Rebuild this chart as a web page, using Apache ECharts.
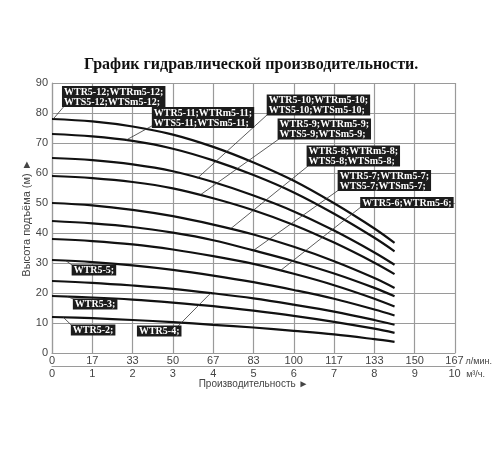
<!DOCTYPE html>
<html>
<head>
<meta charset="utf-8">
<script src="https://cdn.jsdelivr.net/npm/echarts@6/dist/echarts.min.js"></script>
<style>
  html, body { margin: 0; padding: 0; background: #fff; }
  #main { width: 500px; height: 450px; }
</style>
</head>
<body>
<div id="main"></div>
<script>
// flow, m3/h
var flow = [0, 1, 2, 3, 4, 5, 6, 7, 8, 8.5];

// head, m (one curve per number of stages)
var head12 = [78, 77.2, 75.5, 72.8, 68.7, 63.5, 57.4, 49.9, 41.5, 36.7];
var head11 = [73, 72.2, 70.7, 68.1, 64.2, 59.3, 53.5, 46.4, 38.4, 33.9];
var head10 = [65, 64.3, 62.9, 60.6, 57.0, 52.5, 47.2, 40.8, 33.5, 29.4];
var head9  = [59, 58.3, 57.0, 54.9, 51.6, 47.6, 42.7, 36.8, 30.1, 26.3];
var head8  = [50, 49.2, 47.7, 45.6, 42.8, 39.5, 35.4, 30.6, 25.0, 21.7];
var head7  = [44, 43.2, 42.0, 40.1, 37.6, 34.2, 30.6, 26.5, 21.7, 18.9];
var head6  = [38, 37.3, 36.2, 34.5, 32.3, 29.7, 26.4, 22.6, 18.1, 15.5];
var head5  = [31, 30.3, 29.2, 27.7, 25.8, 23.6, 21.0, 18.1, 14.5, 12.5];
var head4  = [24, 23.4, 22.5, 21.4, 19.9, 18.2, 16.1, 13.8, 11.0, 9.4];
var head3  = [19, 18.5, 17.8, 16.8, 15.6, 14.1, 12.4, 10.4, 8.1, 6.7];
var head2  = [12, 11.6, 11.0, 10.3, 9.4, 8.5, 7.4, 6.2, 4.6, 3.7];

// tick labels
var litreTicks = ['0', '17', '33', '50', '67', '83', '100', '117', '133', '150', '167'];
var cubicTicks = ['0', '1', '2', '3', '4', '5', '6', '7', '8', '9', '10'];

var curves = [
  { name: '5-12', head: head12 },
  { name: '5-11', head: head11 },
  { name: '5-10', head: head10 },
  { name: '5-9', head: head9 },
  { name: '5-8', head: head8 },
  { name: '5-7', head: head7 },
  { name: '5-6', head: head6 },
  { name: '5-5', head: head5 },
  { name: '5-4', head: head4 },
  { name: '5-3', head: head3 },
  { name: '5-2', head: head2 }
];

// label boxes: leader from a point on the curve to the box
var notes = {
  '5-12': { text: 'WTR5-12;WTRm5-12;\nWTS5-12;WTSm5-12;', from: [0.03, 78], to: [0.31, 82.4], box: [0.26, 88.8] },
  '5-11': { text: 'WTR5-11;WTRm5-11;\nWTS5-11;WTSm5-11;', from: [1.83, 70.9], to: [2.52, 76], box: [2.49, 81.8] },
  '5-10': { text: 'WTR5-10;WTRm5-10;\nWTS5-10;WTSm5-10;', from: [3.61, 58.3], to: [5.34, 79.4], box: [5.34, 86] },
  '5-9':  { text: 'WTR5-9;WTRm5-9;\nWTS5-9;WTSm5-9;', from: [3.68, 52.7], to: [5.64, 71.4], box: [5.61, 78] },
  '5-8':  { text: 'WTR5-8;WTRm5-8;\nWTS5-8;WTSm5-8;', from: [4.43, 41.4], to: [6.36, 62.4], box: [6.33, 69] },
  '5-7':  { text: 'WTR5-7;WTRm5-7;\nWTS5-7;WTSm5-7;', from: [5.0, 34.2], to: [7.1, 54.2], box: [7.1, 60.8] },
  '5-6':  { text: 'WTR5-6;WTRm5-6;', from: [5.67, 27.5], to: [7.66, 48.6], box: [7.66, 51.8] },
  '5-5':  { text: 'WTR5-5;', from: [0.34, 30.8], to: [0.5, 29.3], box: [0.5, 29.3] },
  '5-4':  { text: 'WTR5-4;', from: [3.94, 20.0], to: [3.13, 9.0], box: [2.12, 9.0] },
  '5-3':  { text: 'WTR5-3;', from: [0.38, 18.8], to: [0.53, 18], box: [0.53, 18] },
  '5-2':  { text: 'WTR5-2;', from: [0.28, 11.9], to: [0.48, 9.3], box: [0.48, 9.3] }
};

var chart = echarts.init(document.getElementById('main'));

var gridColor = '#9a9a9a';
var labelColor = '#444';
var sans = '"Liberation Sans", Arial, sans-serif';
var serif = '"Liberation Serif", "Times New Roman", serif';

function endLabel(value, ticks, unit) {
  var i = Math.round(value);
  if (i === ticks.length - 1) {
    return '{s|}{v|' + ticks[i] + '}{u|' + unit + '}';
  }
  return '{v|' + ticks[i] + '}';
}

var richTicks = {
  v: { fontSize: 11, color: labelColor, fontFamily: sans },
  s: { width: 28 },
  u: { width: 28, fontSize: 9, color: labelColor, fontFamily: sans, align: 'left', padding: [1, 0, 0, 1] }
};

var series = curves.map(function (c) {
  var n = notes[c.name];
  return {
    name: c.name,
    type: 'line',
    xAxisIndex: 0,
    data: flow.map(function (q, i) { return [q, c.head[i]]; }),
    smooth: 0.35,
    showSymbol: false,
    symbol: 'none',
    lineStyle: { color: '#111', width: 2.2 },
    animation: false,
    z: 3,
    markLine: {
      silent: true,
      animation: false,
      symbol: ['none', 'none'],
      lineStyle: { color: '#333', width: 0.8, type: 'solid' },
      label: { show: false },
      emphasis: { disabled: true },
      data: [[{ coord: n.from }, { coord: n.to }]]
    },
    markPoint: {
      silent: true,
      animation: false,
      symbol: 'rect',
      symbolSize: 1,
      itemStyle: { color: 'rgba(0,0,0,0)' },
      z: 10,
      data: [{
        coord: n.box,
        label: {
          show: true,
          position: [0, 0],
          align: 'left',
          verticalAlign: 'top',
          formatter: n.text,
          color: '#fff',
          fontFamily: serif,
          fontWeight: 'bold',
          fontSize: 10,
          lineHeight: 10,
          backgroundColor: '#1c1c1c',
          padding: [1, 2, 0, 2]
        }
      }]
    }
  };
});

var option = {
  backgroundColor: '#fff',
  title: {
    text: 'График гидравлической производительности.',
    left: 79,
    top: 52,
    textStyle: { fontFamily: serif, fontWeight: 'bold', fontSize: 16, color: '#111' }
  },
  grid: { left: 52, right: 45, top: 83, bottom: 97, containLabel: false },
  xAxis: [
    {
      type: 'value',
      min: 0,
      max: 10,
      interval: 1,
      axisLine: { show: true, lineStyle: { color: gridColor, width: 1.2 } },
      axisTick: { show: false },
      splitLine: { show: true, lineStyle: { color: gridColor, width: 1.2 } },
      axisLabel: {
        margin: 2,
        showMinLabel: true,
        showMaxLabel: true,
        formatter: function (v) { return endLabel(v, litreTicks, 'л/мин.'); },
        rich: richTicks
      }
    },
    {
      type: 'value',
      min: 0,
      max: 10,
      interval: 1,
      position: 'bottom',
      offset: 13,
      axisLine: { show: true, lineStyle: { color: gridColor, width: 1.2 } },
      axisTick: { show: false },
      splitLine: { show: false },
      axisLabel: {
        margin: 2,
        showMinLabel: true,
        showMaxLabel: true,
        formatter: function (v) { return endLabel(v, cubicTicks, 'м³/ч.'); },
        rich: richTicks
      },
      name: 'Производительность ►',
      nameLocation: 'middle',
      nameGap: 13,
      nameMoveOverlap: false,
      nameTextStyle: { fontFamily: sans, fontSize: 10, color: labelColor }
    }
  ],
  yAxis: {
    type: 'value',
    min: 0,
    max: 90,
    interval: 10,
    axisLine: { show: true, lineStyle: { color: gridColor, width: 1.2 } },
    axisTick: { show: false },
    splitLine: { show: true, lineStyle: { color: gridColor, width: 1.2 } },
    axisLabel: { fontFamily: sans, fontSize: 11, color: labelColor, margin: 4 },
    name: 'Высота подъёма (м) ►',
    nameLocation: 'middle',
    nameRotate: 90,
    nameGap: 20,
    nameMoveOverlap: false,
    nameTextStyle: { fontFamily: sans, fontSize: 11, color: labelColor }
  },
  series: series
};

chart.setOption(option);
</script>
</body>
</html>
